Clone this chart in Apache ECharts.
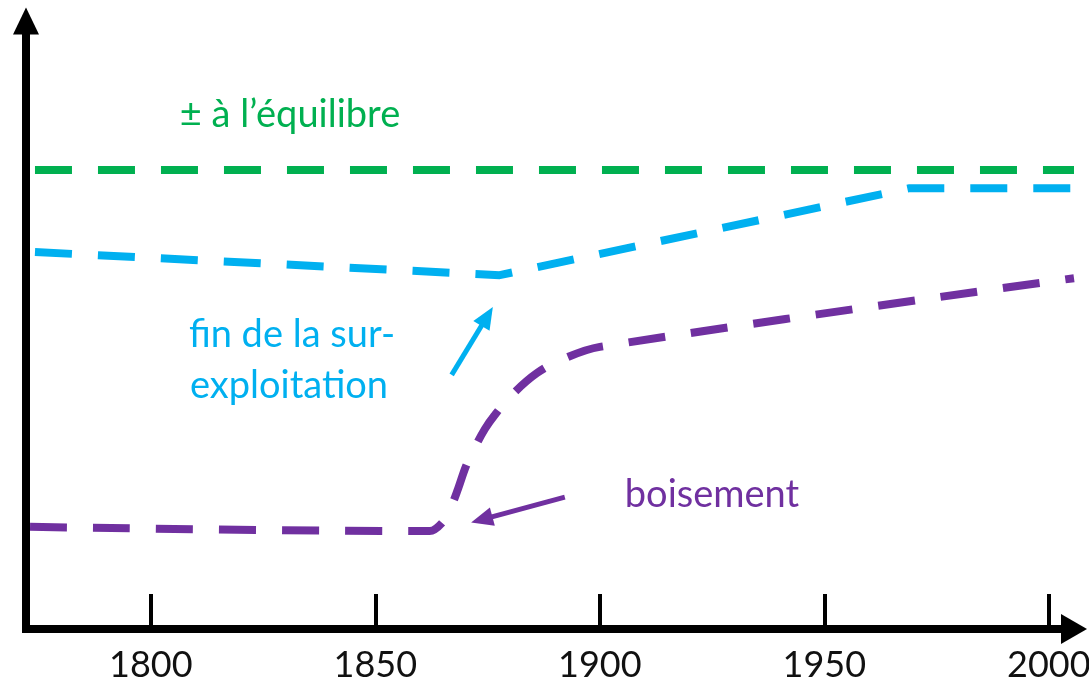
<!DOCTYPE html>
<html>
<head>
<meta charset="utf-8">
<script src="https://cdn.jsdelivr.net/npm/echarts@6/dist/echarts.min.js"></script>
<style>
  html, body { margin: 0; padding: 0; background: #fff; }
  #chart { width: 1089px; height: 684px; }
</style>
</head>
<body>
<div id="chart"></div>
<script>
// ticks on the time axis
const tickYears = [1800, 1850, 1900, 1950, 2000];

// [year, level] - level on an arbitrary 0-100 scale (no y labels in the figure)
const equilibre = [[1774.2, 75.5], [2005.6, 75.5]];
const surExploitation = [[1774.2, 62.0], [1877.7, 58.2], [1969.0, 72.5], [2005.6, 72.5]];
const boisement = [
  [1773.1, 16.8], [1862.1, 16.1], [1864.8, 17.4], [1866.8, 20.0], [1868.4, 23.0],
  [1870.2, 26.8], [1872.2, 29.9], [1874.4, 32.9], [1876.6, 35.2], [1880.4, 38.5],
  [1886.0, 42.1], [1891.8, 44.4], [1900.0, 46.4], [2005.6, 57.7]
];

// annotation arrows [from, to]
const arrowSurExpl = [[1867.0, 41.8], [1874.9, 51.4]];
const arrowBoisement = [[1892.2, 21.7], [1873.7, 18.0]];

const labelEquilibre = '± à l’équilibre';
const labelSurExpl = ['fin de la sur-', 'exploitation'];
const labelBoisement = 'boisement';

const GREEN = '#00B050';
const BLUE = '#00B0F0';
const PURPLE = '#7030A0';
const FONT = 'Lato, "Open Sans", sans-serif';
const dash = [37, 26];

const chart = echarts.init(document.getElementById('chart'));

function arrow(pts, color) {
  const ls = { color: color, width: 5, type: 'solid' };
  return {
    silent: true,
    animation: false,
    symbol: ['none', 'triangle'],
    symbolSize: [19, 22],
    label: { show: false },
    lineStyle: ls,
    emphasis: { disabled: true },
    data: [[{ coord: pts[0], lineStyle: ls }, { coord: pts[1] }]]
  };
}

function txt(x, y, s, color) {
  return {
    type: 'text', x: x, y: y,
    style: { text: s, fill: color, font: '38px ' + FONT, align: 'center', verticalAlign: 'middle' }
  };
}

const option = {
  animation: false,
  grid: { left: 26, right: 15, top: 21, bottom: 55, outerBoundsMode: 'none' },
  xAxis: {
    type: 'value',
    min: 1772.2,
    max: 2005.6,
    splitLine: { show: false },
    axisLine: {
      show: true,
      symbol: ['none', 'triangle'],
      symbolSize: [30, 26],
      lineStyle: { color: '#000', width: 8, cap: 'square' }
    },
    axisTick: {
      show: true,
      inside: true,
      length: 35,
      customValues: tickYears,
      lineStyle: { color: '#000', width: 4 }
    },
    axisLabel: {
      show: true,
      customValues: tickYears,
      formatter: v => String(v),
      margin: 18,
      fontFamily: FONT,
      fontSize: 36,
      color: '#111'
    }
  },
  yAxis: {
    type: 'value',
    min: 0,
    max: 100,
    splitLine: { show: false },
    axisTick: { show: false },
    axisLabel: { show: false },
    axisLine: {
      show: true,
      symbol: ['none', 'triangle'],
      symbolSize: [26, 27],
      lineStyle: { color: '#000', width: 8, cap: 'square' }
    }
  },
  series: [
    {
      name: 'équilibre',
      type: 'line',
      data: equilibre,
      symbol: 'none',
      lineStyle: { color: GREEN, width: 8, type: dash }
    },
    {
      name: 'sur-exploitation',
      type: 'line',
      data: surExploitation,
      symbol: 'none',
      lineStyle: { color: BLUE, width: 8, type: dash },
      markLine: arrow(arrowSurExpl, BLUE)
    },
    {
      name: 'boisement',
      type: 'line',
      data: boisement,
      symbol: 'none',
      smooth: 0.35,
      lineStyle: { color: PURPLE, width: 8, type: dash },
      markLine: arrow(arrowBoisement, PURPLE)
    }
  ],
  graphic: [
    txt(290, 115, labelEquilibre, GREEN),
    txt(292, 335, labelSurExpl[0], BLUE),
    txt(289, 386, labelSurExpl[1], BLUE),
    txt(712, 495, labelBoisement, PURPLE)
  ]
};

chart.setOption(option);
</script>
</body>
</html>
